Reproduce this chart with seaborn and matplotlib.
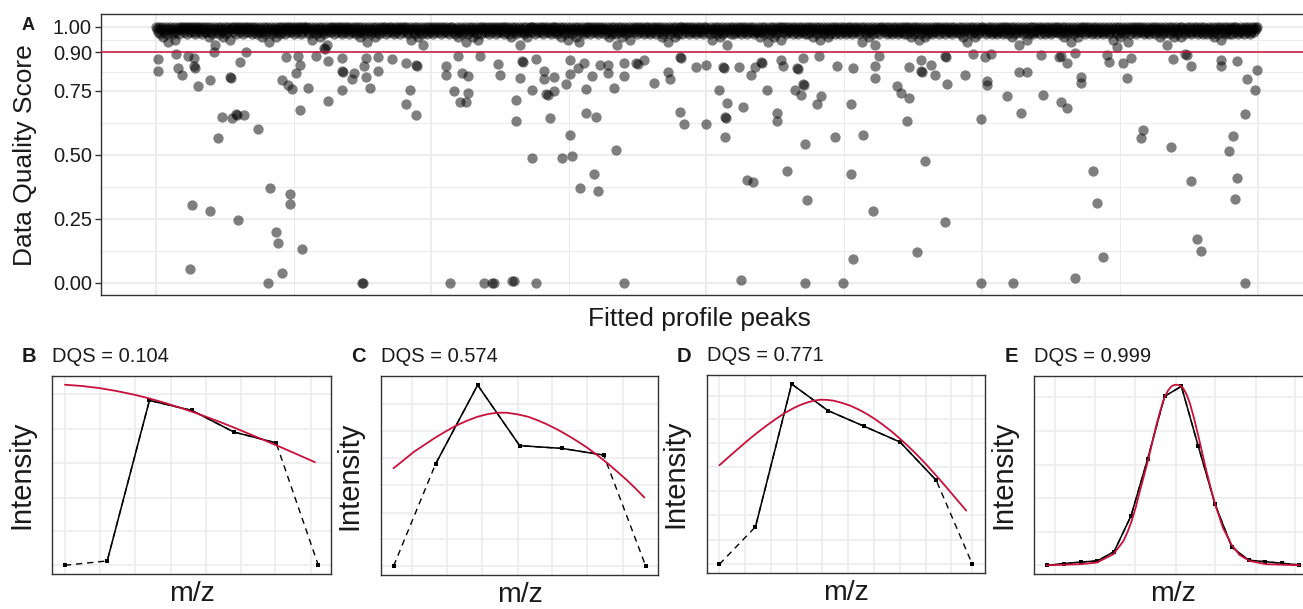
import matplotlib
matplotlib.use("Agg")
import numpy as np
import pandas as pd
import matplotlib.pyplot as plt
import seaborn as sns

# ---------------- DATA ----------------
# Panel A: dense band of high-quality peaks (DQS in hundredths, one value per peak index)
band_dqs_pct = [
    100, 99, 98, 100, 97, 99, 100, 96, 98, 99, 100, 97, 94, 99, 100, 98, 99, 97, 100, 95, 98, 99, 100, 97, 99,
    100, 99, 100, 98, 99, 100, 97, 100, 99, 98, 100, 99, 100, 98, 97, 100, 99, 100, 98, 99, 100, 97, 99, 100, 98,
    98, 100, 99, 96, 100, 98, 97, 99, 100, 93, 99, 98, 100, 97, 99, 100, 98, 96, 99, 100, 97, 98, 100, 99, 95,
    99, 100, 98, 100, 99, 97, 100, 99, 100, 98, 99, 100, 97, 99, 100, 98, 100, 99, 98, 100, 99, 97, 100, 98, 99,
    100, 97, 99, 98, 100, 99, 96, 98, 100, 97, 99, 100, 98, 94, 99, 100, 97, 98, 99, 100, 96, 99, 98, 100, 97,
    100, 98, 99, 100, 97, 99, 100, 98, 100, 99, 98, 100, 99, 97, 100, 99, 98, 100, 99, 100, 97, 98, 100, 99, 100,
    99, 100, 98, 97, 99, 100, 95, 98, 99, 100, 97, 99, 98, 100, 96, 99, 100, 98, 97, 99, 100, 93, 98, 99, 100,
    98, 100, 99, 97, 100, 99, 98, 100, 99, 100, 98, 97, 100, 99, 98, 100, 99, 100, 97, 99, 98, 100, 99, 98, 100,
    97, 99, 100, 98, 96, 100, 99, 98, 97, 100, 99, 94, 98, 100, 99, 97, 98, 100, 99, 96, 100, 98, 99, 97, 100,
    99, 98, 100, 99, 100, 97, 99, 98, 100, 99, 100, 98, 99, 97, 100, 98, 99, 100, 99, 97, 100, 99, 98, 100, 99,
    100, 98, 97, 99, 100, 95, 99, 98, 100, 97, 99, 100, 96, 98, 99, 100, 97, 93, 99, 100, 98, 97, 100, 99, 98,
    100, 99, 97, 100, 98, 99, 100, 99, 98, 100, 97, 99, 100, 98, 99, 100, 98, 99, 97, 100, 99, 100, 98, 99, 97,
    99, 100, 96, 98, 99, 100, 97, 99, 98, 100, 94, 99, 97, 100, 98, 99, 100, 96, 98, 99, 100, 97, 95, 99, 100,
    97, 100, 99, 98, 100, 99, 98, 100, 97, 99, 100, 98, 99, 100, 99, 97, 100, 98, 99, 100, 98, 99, 100, 97, 100,
    98, 99, 100, 97, 99, 96, 100, 98, 99, 100, 97, 98, 99, 100, 93, 98, 99, 100, 97, 98, 100, 96, 99, 98, 100,
    100, 98, 100, 99, 97, 100, 99, 98, 99, 100, 98, 100, 97, 99, 100, 99, 98, 100, 99, 98, 97, 100, 99, 100, 98,
    100, 97, 98, 99, 100, 96, 99, 100, 98, 97, 99, 100, 95, 98, 99, 100, 97, 99, 98, 100, 96, 99, 100, 94, 98,
    99, 100, 98, 97, 99, 100, 98, 100, 99, 97, 100, 99, 98, 100, 99, 98, 100, 97, 99, 100, 98, 99, 100, 99, 97,
    99, 100, 98, 96, 99, 100, 97, 98, 100, 99, 97, 93, 100, 98, 99, 100, 96, 98, 99, 100, 97, 99, 98, 100, 95,
    98, 99, 100, 99, 98, 100, 97, 99, 100, 98, 99, 100, 99, 97, 98, 100, 99, 100, 98, 97, 99, 100, 98, 99, 100,
    97, 99, 100, 98, 99, 100, 96, 97, 99, 100, 98, 99, 94, 100, 97, 99, 98, 100, 99, 96, 100, 98, 97, 99, 100,
    100, 97, 99, 100, 99, 98, 100, 99, 97, 100, 98, 99, 100, 98, 99, 97, 100, 99, 98, 100, 99, 98, 97, 100, 99,
    100, 98, 99, 97, 100, 95, 99, 98, 100, 99, 97, 100, 98, 96, 99, 100, 97, 98, 99, 100, 93, 98, 99, 100, 97,
    99, 100, 97, 99, 98, 100, 99, 98, 100, 97, 99, 100, 98, 99, 100, 97, 98, 99, 100, 99, 98, 100, 97, 99, 98,
    98, 100, 99, 96, 98, 100, 99, 97, 100, 98, 99, 94, 97, 100, 99, 98, 100, 96, 99, 97, 100, 98, 99, 100, 95,
    100, 98, 99, 100, 97, 98, 100, 99, 98, 99, 100, 97, 99, 100, 98, 99, 97, 100, 98, 99, 100, 98, 99, 97, 100,
    99, 97, 100, 98, 99, 100, 96, 99, 98, 100, 97, 99, 100, 95, 98, 99, 100, 97, 98, 99, 100, 96, 99, 97, 100,
    98, 99, 100, 97, 99, 100, 98, 99, 97, 100, 99, 98, 100, 99, 97, 98, 100, 99, 100, 98, 97, 99, 100, 98, 99,
    100, 99, 97, 98, 100, 94, 99, 100, 98, 97, 99, 100, 96, 98, 99, 100, 97, 99, 93, 100, 98, 99, 97, 100, 99,
    100, 99, 98, 99, 100, 97, 98, 100, 99, 98, 97, 100, 99, 98, 100, 99, 97, 98, 100, 99, 98, 100, 97, 99, 100,
    97, 100, 99, 98, 96, 100, 99, 97, 100, 98, 99, 100, 95, 97, 99, 100, 98, 99, 96, 100, 97, 99, 98, 100, 99,
    97, 98, 100, 99, 98, 100, 99, 97, 100, 99, 98, 99, 100, 97, 99, 100, 98, 99, 98, 100, 97, 99, 100, 98, 99,
    99, 98, 100, 97, 99, 100, 96, 98, 99, 100, 94, 99, 98, 100, 97, 99, 100, 98, 96, 99, 100, 97, 98, 99, 100,
    99, 100, 99, 98, 97, 99, 100, 98, 99, 100, 97, 98, 99, 100, 98, 97, 99, 100, 98, 99, 100, 97, 98, 100, 99,
    100, 97, 99, 98, 100, 96, 99, 100, 97, 98, 99, 100, 93, 98, 99, 100, 97, 99, 98, 100, 95, 99, 97, 100, 98,
    100, 97, 98, 100, 99, 98, 99, 100, 97, 99, 100, 99, 98, 97, 100, 99, 98, 100, 99, 97, 98, 100, 99, 98, 100,
    98, 100, 99, 97, 98, 100, 99, 96, 100, 98, 97, 99, 100, 98, 94, 99, 100, 97, 98, 99, 100, 96, 98, 99, 100,
    98, 100, 99, 97, 100, 98, 99, 100, 98, 99, 97, 100, 98, 99, 100, 97, 99, 98, 100, 99, 98, 97, 100, 99, 98,
    99, 100, 97, 98, 99, 100, 95, 99, 98, 100, 97, 99, 100, 96, 98, 99, 100, 97, 99, 98, 100, 94, 99, 97, 100,
    99, 98, 100, 99, 97, 100, 98, 99, 100, 98, 99, 100, 97, 98, 99, 100, 98, 97, 99, 100, 99, 98, 100, 97, 99,
    100, 98, 99, 96, 100, 99, 97, 98, 100, 99, 93, 98, 100, 97, 99, 100, 98, 96, 99, 100, 97, 98, 99, 100, 96,
    100, 99, 98, 97, 99, 100, 99, 98, 100, 97, 98, 99, 100, 99, 98, 100, 97, 99, 98, 100, 99, 97, 100, 98, 99,
    97, 99, 100, 98, 99, 97, 100, 96, 98, 99, 100, 97, 99, 100, 95, 98, 99, 100, 97, 98, 100, 99, 97, 99, 100,
    97, 99, 100, 98, 100, 99, 97, 98, 99, 100, 98, 99, 97, 100, 99, 98, 100, 99, 97, 98, 100, 99, 98, 100, 99,
    100,
]

# Panel A: individually visible lower-quality peaks (peak index, DQS)
outlier_idx = [
    2, 2, 20, 22, 26, 32, 38, 38, 39, 42, 54, 58, 74, 75, 84, 90, 66, 76, 80, 81, 88, 62, 102, 114, 134, 134,
    36, 54, 82, 120, 122, 146, 34, 126, 112, 206, 207, 126, 132, 136, 140, 144, 144, 130, 142, 152, 160, 172,
    172, 186, 186, 187, 186, 196, 198, 208, 210, 214, 210, 168, 169,
    222, 222, 236, 250, 260, 261, 254, 250, 260, 290, 290, 298, 302, 306, 312, 312, 304, 310, 324, 342,
    344, 360, 360, 364, 366, 367, 380, 376, 376, 388, 388, 390, 392, 398, 398, 394, 406, 416, 414, 410,
    414, 422, 428, 430, 436, 430, 440, 438, 424, 442, 414, 294, 328, 336, 338, 356, 358, 380,
    444, 452, 452, 458, 468, 468, 480, 482, 488, 460, 498, 512, 514, 524, 525, 524, 528, 540, 550, 550,
    562, 566, 567, 570, 568, 569, 568, 582, 586, 594, 598, 604, 605, 610, 620, 620, 590, 596, 630, 624,
    626, 640, 641, 646, 647, 638, 644, 648, 650, 646, 660, 664, 662, 468, 584, 648,
    680, 678, 696, 694, 706, 694, 716, 696, 686, 718, 718, 722, 740, 744, 752, 752, 750, 764, 765, 764,
    774, 778, 768, 760, 788, 790, 788, 789, 808, 816, 828, 830, 830, 834, 824, 824, 856, 850, 864, 862,
    870, 886, 884,
    904, 910, 910, 904, 902, 918, 924, 924, 936, 940, 946, 918, 952, 950, 960, 966, 974, 970, 986, 984,
    1014, 1016, 1028, 1030, 1034, 1034, 1040, 1044, 1064, 1064, 1076, 1072, 1080, 1078, 1088, 1080, 1090,
    1100, 1098, 1088,
]
outlier_dqs = [
    0.874, 0.826, 0.894, 0.837, 0.813, 0.885, 0.878, 0.845, 0.840, 0.768, 0.793, 0.902, 0.802, 0.798,
    0.864, 0.900, 0.648, 0.642, 0.660, 0.655, 0.654, 0.565, 0.601, 0.369, 0.347, 0.308, 0.304, 0.281,
    0.246, 0.197, 0.155, 0.130, 0.053, 0.039, 0.000, 0.000, 0.000, 0.791, 0.772, 0.756, 0.820, 0.852,
    0.676, 0.881, 0.885, 0.760, 0.887, 0.865, 0.709, 0.878, 0.828, 0.824, 0.754, 0.794, 0.820, 0.846,
    0.804, 0.760, 0.878, 0.917, 0.912,
    0.826, 0.881, 0.874, 0.859, 0.852, 0.848, 0.753, 0.697, 0.654, 0.846, 0.812, 0.750, 0.885, 0.820,
    0.807, 0.740, 0.707, 0.707, 0.887, 0.855, 0.811, 0.714, 0.631, 0.800, 0.867, 0.863, 0.874, 0.753,
    0.488, 0.829, 0.794, 0.738, 0.734, 0.749, 0.804, 0.642, 0.486, 0.494, 0.576, 0.778, 0.816, 0.839,
    0.859, 0.758, 0.807, 0.661, 0.648, 0.425, 0.369, 0.356, 0.870, 0.000, 0.000, 0.000, 0.000, 0.005,
    0.005, 0.000,
    0.852, 0.820, 0.852, 0.762, 0.807, 0.859, 0.857, 0.853, 0.869, 0.519, 0.780, 0.824, 0.797, 0.880,
    0.876, 0.666, 0.619, 0.843, 0.852, 0.620, 0.753, 0.844, 0.840, 0.703, 0.647, 0.643, 0.570, 0.843,
    0.687, 0.810, 0.842, 0.861, 0.857, 0.751, 0.662, 0.632, 0.399, 0.392, 0.435, 0.869, 0.848, 0.837,
    0.833, 0.777, 0.773, 0.751, 0.733, 0.541, 0.321, 0.878, 0.697, 0.729, 0.887, 0.000, 0.010, 0.000,
    0.846, 0.570, 0.837, 0.697, 0.575, 0.426, 0.281, 0.091, 0.000, 0.846, 0.800, 0.885, 0.768, 0.741,
    0.722, 0.842, 0.630, 0.826, 0.822, 0.872, 0.852, 0.811, 0.475, 0.119, 0.237, 0.776, 0.887, 0.883,
    0.811, 0.894, 0.881, 0.788, 0.772, 0.894, 0.641, 0.000, 0.000, 0.728, 0.662, 0.823, 0.823, 0.733,
    0.890,
    0.706, 0.684, 0.858, 0.887, 0.883, 0.898, 0.804, 0.781, 0.435, 0.310, 0.100, 0.018, 0.863, 0.891,
    0.920, 0.858, 0.878, 0.799, 0.597, 0.567, 0.528, 0.874, 0.893, 0.889, 0.847, 0.396, 0.171, 0.122,
    0.872, 0.847, 0.571, 0.516, 0.408, 0.328, 0.000, 0.868, 0.797, 0.830, 0.751, 0.658,
]
dqs_threshold = 0.90
dqs_ticks = [0.00, 0.25, 0.50, 0.75, 0.90, 1.00]
dqs_ticklabels = ["0.00", "0.25", "0.50", "0.75", "0.90", "1.00"]

# Panels B-E: profile points (m/z step, relative intensity), fit-window flag, fitted curve
B_dqs = 0.104
B_mz = [0, 1, 2, 3, 4, 5, 6]
B_int = [0.000, 0.024, 0.913, 0.858, 0.738, 0.678, 0.000]
B_used = [False, True, True, True, True, True, False]
B_fit_mz = [0, 0.4, 0.8, 1.2, 1.6, 2.0, 2.4, 2.8, 3.2, 3.6, 4.0, 4.4, 4.8, 5.2, 5.6, 5.92]
B_fit_int = [1.000, 0.993, 0.982, 0.966, 0.947, 0.924, 0.897, 0.867, 0.835, 0.800, 0.763, 0.724,
             0.685, 0.645, 0.604, 0.571]

C_dqs = 0.574
C_mz = [0, 1, 2, 3, 4, 5, 6]
C_int = [0.000, 0.564, 1.000, 0.665, 0.650, 0.613, 0.000]
C_used = [False, True, True, True, True, True, False]
C_fit_mz = [0, 0.25, 0.49, 0.75, 0.99, 1.25, 1.48, 1.75, 2.0, 2.25, 2.47, 2.7, 2.95, 3.2, 3.42,
            3.65, 3.9, 4.13, 4.37, 4.6, 4.85, 5.1, 5.32, 5.55, 5.76, 5.97]
C_fit_int = [0.540, 0.587, 0.632, 0.672, 0.709, 0.745, 0.775, 0.803, 0.825, 0.840, 0.847, 0.847,
             0.838, 0.825, 0.806, 0.783, 0.754, 0.724, 0.690, 0.655, 0.612, 0.566, 0.522, 0.475,
             0.428, 0.378]

D_dqs = 0.771
D_mz = [0, 1, 2, 3, 4, 5, 6, 7]
D_int = [0.000, 0.208, 1.000, 0.853, 0.766, 0.678, 0.466, 0.000]
D_used = [False, True, True, True, True, True, True, False]
D_fit_mz = [0, 0.24, 0.48, 0.75, 1.03, 1.31, 1.59, 1.82, 2.05, 2.23, 2.42, 2.6, 2.79, 2.97, 3.15,
            3.38, 3.62, 3.85, 4.08, 4.31, 4.54, 4.77, 5.0, 5.23, 5.46, 5.69, 5.92, 6.15, 6.38, 6.6, 6.83]
D_fit_int = [0.549, 0.592, 0.634, 0.681, 0.727, 0.770, 0.810, 0.840, 0.866, 0.883, 0.897, 0.907,
             0.913, 0.912, 0.908, 0.896, 0.880, 0.859, 0.834, 0.805, 0.772, 0.736, 0.696, 0.654,
             0.609, 0.561, 0.510, 0.458, 0.404, 0.352, 0.298]

E_dqs = 0.999
E_mz = [0, 1, 2, 3, 4, 5, 6, 7, 8, 9, 10, 11, 12, 13, 14, 15]
E_int = [0.000, 0.009, 0.018, 0.024, 0.076, 0.273, 0.591, 0.936, 0.991, 0.661, 0.339, 0.101,
         0.028, 0.020, 0.011, 0.002]
E_used = [True] * 16
E_fit_mz = [0, 1.98, 2.96, 3.95, 4.55, 4.8, 5.04, 5.29, 5.53, 5.78, 6.03, 6.28, 6.52, 6.77, 7.02,
            7.22, 7.41, 7.58, 7.75, 7.92, 8.10, 8.30, 8.50, 8.75, 8.99, 9.24, 9.49, 9.74, 9.98,
            10.47, 10.97, 11.46, 12.06, 13.04, 15.02]
E_fit_int = [0.000, 0.006, 0.015, 0.061, 0.134, 0.185, 0.245, 0.323, 0.411, 0.498, 0.586, 0.686,
             0.779, 0.864, 0.936, 0.970, 0.991, 0.999, 1.000, 0.995, 0.982, 0.948, 0.899, 0.815,
             0.724, 0.622, 0.521, 0.430, 0.346, 0.208, 0.116, 0.057, 0.024, 0.006, 0.000]

# ---------------- STYLE / LAYOUT ----------------
sns.set_theme(style="white")
plt.rcParams["font.family"] = ["Liberation Sans", "DejaVu Sans"]

W, H = 1303, 609
RED = "#C8103A"
GRID = "#EBEBEB"
SPINE = "#333333"
TXT = "#1A1A1A"

fig = plt.figure(figsize=(W / 100, H / 100), dpi=100)


def rect(l, t, r, b):
    return [l / W, 1 - b / H, (r - l) / W, (b - t) / H]


def frame(ax):
    for s in ax.spines.values():
        s.set_visible(True)
        s.set_color(SPINE)
        s.set_linewidth(1.0)
    ax.set_axisbelow(True)


# ---------------- PANEL A ----------------
axA = fig.add_axes(rect(101, 14, 1313, 295.3))
frame(axA)
dfA = pd.DataFrame({
    "peak": list(range(len(band_dqs_pct))) + outlier_idx,
    "dqs": [v / 100 for v in band_dqs_pct] + outlier_dqs,
})
sns.scatterplot(data=dfA, x="peak", y="dqs", color="black", alpha=0.5, s=55,
                linewidth=0, ax=axA, legend=False, zorder=2)
axA.axhline(dqs_threshold, color=RED, lw=1.1, zorder=3)
axA.set_xlim(-55, 1156)
axA.set_ylim(-0.05, 1.05)
axA.set_yticks(dqs_ticks)
axA.set_yticklabels(dqs_ticklabels)
axA.set_yticks([0.125, 0.375, 0.625, 0.825, 0.95], minor=True)
axA.set_xticks([0, 275, 550, 825, 1101])
axA.set_xticks([137.5, 412.5, 687.5, 963], minor=True)
axA.grid(which="major", color=GRID, lw=1.3)
axA.grid(which="minor", color=GRID, lw=0.7)
axA.tick_params(axis="x", which="both", length=0, labelbottom=False)
axA.tick_params(axis="y", which="major", length=4.5, width=1.0, color=SPINE,
                labelsize=14.5, labelcolor=TXT, pad=2, left=True)
axA.tick_params(axis="y", which="minor", length=0)
axA.set_ylabel("Data Quality Score", fontsize=19, color=TXT)
axA.yaxis.set_label_coords(-0.053, 0.5)
axA.set_xlabel("Fitted profile peaks", fontsize=19, color=TXT)
axA.xaxis.set_label_coords(0.494, -0.041)
fig.text(28 / W, 1 - 25 / H, "A", fontsize=13, weight="bold", ha="center", va="center", color=TXT)

# ---------------- PANELS B-E ----------------
panels = [
    ("B", B_dqs, B_mz, B_int, B_used, B_fit_mz, B_fit_int),
    ("C", C_dqs, C_mz, C_int, C_used, C_fit_mz, C_fit_int),
    ("D", D_dqs, D_mz, D_int, D_used, D_fit_mz, D_fit_int),
    ("E", E_dqs, E_mz, E_int, E_used, E_fit_mz, E_fit_int),
]
boxes = [(52.3, 375.7, 331, 574.3), (381, 376, 658.3, 575),
         (706.7, 375, 985, 573.3), (1034.3, 375.7, 1312, 574.3)]
xgrids = [
    [0, 0.82, 1.65, 2.51, 3.33, 4.16, 4.98, 5.82],
    [0.44, 1.27, 2.1, 2.95, 3.78, 4.61, 5.46],
    [0.0, 0.71, 1.42, 2.14, 2.85, 3.57, 4.28, 5.0, 5.71, 6.41, 7.0],
    [0.49, 2.87, 5.24, 7.65, 10.02, 12.41, 14.78],
]
ygrids = [
    [0.0, 0.19, 0.374, 0.564, 0.755, 0.948],
    [0.0, 0.147, 0.295, 0.448, 0.595, 0.746, 0.895],
    [0.0, 0.134, 0.273, 0.405, 0.54, 0.674, 0.807, 0.936],
    [0.0, 0.186, 0.374, 0.558, 0.746, 0.932],
]

for (tag, dqs, mz, inten, used, fmz, fint), box, xg, yg in zip(panels, boxes, xgrids, ygrids):
    ax = fig.add_axes(rect(*box))
    frame(ax)
    # full profile (dashed, incl. points outside the fit window)
    sns.lineplot(x=mz, y=inten, ax=ax, sort=False, estimator=None, color="black",
                 lw=1.0, linestyle=(0, (4.5, 3.5)), zorder=2)
    # fit window (solid)
    mz_u = [m for m, u in zip(mz, used) if u]
    in_u = [v for v, u in zip(inten, used) if u]
    sns.lineplot(x=mz_u, y=in_u, ax=ax, sort=False, estimator=None, color="black",
                 lw=1.1, zorder=3)
    sns.scatterplot(x=mz, y=inten, ax=ax, color="black", marker="s", s=9,
                    linewidth=0, zorder=4, legend=False)
    # fitted model curve
    sns.lineplot(x=fmz, y=fint, ax=ax, sort=False, estimator=None, color=RED,
                 lw=1.3, zorder=5)
    ax.margins(x=0.05, y=0.05)
    ax.set_xticks(xg)
    ax.set_yticks(yg)
    ax.grid(which="major", color=GRID, lw=1.1)
    ax.tick_params(length=0, labelbottom=False, labelleft=False)
    ax.set_xlabel("m/z", fontsize=20.5, color=TXT)
    ax.xaxis.set_label_coords(0.5, -0.034)
    ax.set_ylabel("Intensity", fontsize=21, color=TXT)
    ax.yaxis.set_label_coords(-0.062, 0.5)
    ax.set_title(f"DQS = {dqs:.3f}", loc="left", fontsize=14.5, pad=10, color=TXT)
    fig.text((box[0] - 23) / W, 1 - 357 / H, tag, fontsize=14.5, weight="bold",
             ha="center", va="center", color=TXT)

fig.savefig("out.png", dpi=100)
